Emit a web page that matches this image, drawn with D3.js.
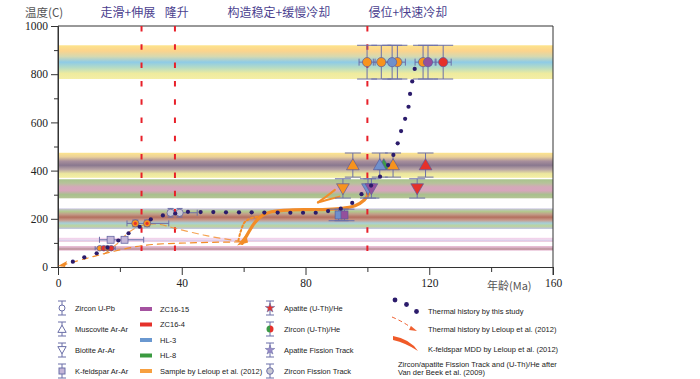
<!DOCTYPE html>
<html><head><meta charset="utf-8">
<script src="https://cdn.jsdelivr.net/npm/d3@7"></script>
<style>body{margin:0;background:#fff} svg{display:block}</style>
</head><body><div id="chart"></div>
<script>
// ---- values ----
const xTicks = [0, 40, 80, 120, 160];
const xMinor = [20, 60, 100, 140];
const yTicks = [0, 200, 400, 600, 800, 1000];
const yMinor = [100, 300, 500, 700, 900];

const stageNames = ["走滑+伸展", "隆升", "构造稳定+缓慢冷却", "侵位+快速冷却"];
const stageAt = [22.6, 38.4, 71.4, 113.1];
const boundaryAges = [27, 37.8, 100];

// closure temperature bands (lo, hi, colour stripes top->bottom)
const bandLo = [780, 370, 285, 158, 105, 68];
const bandHi = [920, 474, 364, 243, 121, 87];
const bandStops = [
  ["#fde48c", "#fcd38c", "#d6d9b0", "#8ecbe6", "#b6dcc4", "#eeeb9e", "#f4eea6"],
  ["#fde58e", "#ead09a", "#a88f9c", "#8a788f", "#b9a5a6", "#ece79e", "#f4efa6"],
  ["#a7c28c", "#b6c39a", "#d4a9b9", "#d6a6bc", "#a9c08e", "#b5c595"],
  ["#c6c2e0", "#b2c98e", "#c29c88", "#b4705f", "#c99a8c", "#a6cfd8", "#bdd59a", "#bcc0e2"],
  ["#f0c8e8", "#f3dcee", "#dccfec", "#e6b6d2"],
  ["#ecc0d8", "#d8b0c4", "#b98f96", "#e9bcd6"]
];

// thermal history by this study
const thermalAge = [4.8, 8.5, 12.5, 16, 19.5, 22.8, 26.4, 30, 33.9, 37.9, 42, 46.1, 50.2, 54.3, 58.5, 62.6, 66.7, 71, 75.1, 79.2,
  83.3, 87.3, 91.4, 95.1, 98.1, 101.2, 104.1, 106.7, 108.4, 109.8, 110.9, 112.2, 113.3, 113.8, 114.5, 115.3];
const thermalTemp = [22, 40, 57, 80, 110, 140, 167, 198, 214, 222, 229, 228, 228, 227, 227, 227, 226, 226, 225, 225,
  225, 232, 242, 266, 302, 338, 375, 423, 465, 513, 564, 615, 665, 718, 770, 822];

// thermal history by Leloup et al. (2012)
const leloupLow = [[1, 6], [9, 35], [17, 62], [28, 90], [42, 100], [59, 104]];
const leloupHigh = [[15, 55], [19, 95], [23, 145], [27, 172], [32, 178], [38, 160], [48, 130], [59, 106]];
// K-feldspar MDD by Leloup et al. (2012)
const kfsMain = [[59.5, 98], [61, 130], [63.4, 181], [66, 213], [69, 229], [76, 237], [84, 238], [91, 242], [96, 254], [99, 278], [100.5, 305]];
const kfsDotted = [[58.3, 110], [59, 145], [60.3, 185], [62.5, 203], [66, 212]];
const kfsV1 = [[84, 268], [87, 295], [89.5, 320]];
const kfsV2 = [[84, 268], [88, 282], [91, 292]];

// sample data points
const highAges = [99.9, 104.5, 109.7, 108, 118, 119.6, 124.5];
const highFills = ["orange", "orange", "orange", "blue", "orange", "purple", "red"];
const highTemp = 850, highErr = 70;

const upAges = [95.3, 105.3, 104, 108.3, 118.8];
const upFills = ["orange", "green", "blue", "orange", "red"];
const upTemp = 423, upErr = 50;

const downAges = [92.1, 100.2, 101.3, 116.1];
const downFills = ["orange", "blue", "purple", "red"];
const downTemp = 326, downErr = 40;

const sqAges = [90.7, 92.6];
const sqFills = ["blue", "purple"];
const sqTemp = 216, sqErr = 24;

const ftAges = [13.5, 14.8, 16, 17.2];   // small circles ~78 C
const ftTemp = 78, ftRange = [12, 18.5];
const arAges = [17, 21.5];              // squares ~113 C
const arTemp = 113, arRange = [13.4, 27.7];
const heAges = [25, 28.8];              // circles ~181 C
const heTemp = 181, heRange = [22.3, 35.8], heErr = 14;
const zfAges = [36.4, 39.3];            // grey circles ~225 C
const zfTemp = 225, zfRange = [35.6, 45], zfErr = 18;

const legendMethods = ["Zircon U-Pb", "Muscovite Ar-Ar", "Biotite Ar-Ar", "K-feldspar Ar-Ar"];
const legendSamples = ["ZC16-15", "ZC16-4", "HL-3", "HL-8", "Sample by Leloup et al. (2012)"];
const sampleColors = ["#a452a0", "#e5312b", "#6a98d0", "#3a9a40", "#f7a040"];
const legendDating = ["Apatite (U-Th)/He", "Zircon (U-Th)/He", "Apatite Fission Track", "Zircon Fission Track"];
const legendHistory = ["Thermal history by this study", "Thermal history by Leloup et al. (2012)",
  "K-feldspar MDD by Leloup et al. (2012)", "Zircon/apatite Fission Track and (U-Th)/He after", "Van der Beek et al. (2009)"];

// ---- drawing ----
const W = 700, H = 379;
const pal = {orange: "#f7931e", red: "#e5312b", blue: "#6f90cc", purple: "#94509c", green: "#3c9a46"};
const errC = "#6b6fa8", dotC = "#2b1b6b", leloupC = "#f28c28";
const serif = "Liberation Serif, Times New Roman, serif";
const cjk = "Noto Sans CJK SC, sans-serif";

const x = d3.scaleLinear([0, 160], [58, 553]);
const y = d3.scaleLinear([0, 1000], [267, 26]);

const svg = d3.select("#chart").append("svg").attr("width", W).attr("height", H);
const defs = svg.append("defs");

// bands
bandStops.forEach((stops, i) => {
  const g = defs.append("linearGradient").attr("id", "band" + i)
    .attr("x1", 0).attr("y1", 0).attr("x2", 0).attr("y2", 1);
  stops.forEach((c, j) => g.append("stop").attr("offset", j / (stops.length - 1)).attr("stop-color", c));
});
svg.append("g").selectAll("rect").data(bandLo).join("rect")
  .attr("x", x(0)).attr("width", x(160) - x(0))
  .attr("y", (d, i) => y(bandHi[i])).attr("height", (d, i) => y(d) - y(bandHi[i]))
  .attr("fill", (d, i) => `url(#band${i})`);

// frame
svg.append("path").attr("fill", "none").attr("stroke", "#333").attr("stroke-width", 1)
  .attr("d", `M${x(0)},${y(0)}V${y(1000)}H${x(160)}V${y(0) + 8}`);

// axes
svg.append("g").attr("transform", `translate(${x(0)},0)`)
  .call(d3.axisLeft(y).tickValues(yTicks).tickSize(7).tickPadding(3).tickFormat(d3.format("d")));
svg.append("g").attr("transform", `translate(${x(0)},0)`)
  .call(d3.axisLeft(y).tickValues(yMinor).tickSize(4).tickFormat(""))
  .call(g => g.select(".domain").remove());
svg.append("g").attr("transform", `translate(0,${y(0)})`)
  .call(d3.axisBottom(x).tickValues(xTicks).tickSize(8).tickPadding(4).tickFormat(d3.format("d")));
svg.append("g").attr("transform", `translate(0,${y(0)})`)
  .call(d3.axisBottom(x).tickValues(xMinor).tickSize(5).tickFormat(""))
  .call(g => g.select(".domain").remove());
svg.selectAll(".tick line").attr("stroke", "#333");
svg.selectAll(".domain").attr("stroke", "#333");
svg.selectAll(".tick text").style("font-family", serif).style("font-size", "11.5px").attr("fill", "#222");

svg.append("text").attr("x", 25).attr("y", 17).style("font-family", cjk)
  .style("font-size", "11.5px").attr("fill", "#555").text("温度(C)");
svg.append("text").attr("x", 487).attr("y", 290).style("font-family", cjk)
  .style("font-size", "11px").attr("fill", "#555").text("年龄(Ma)");

// stage labels
svg.append("g").selectAll("text").data(stageNames).join("text")
  .attr("x", (d, i) => x(stageAt[i])).attr("y", 17).attr("text-anchor", "middle")
  .style("font-family", cjk).style("font-size", "12px").attr("fill", "#4b3f8f")
  .text(d => d);

// boundaries
svg.append("g").selectAll("line").data(boundaryAges).join("line")
  .attr("x1", d => x(d)).attr("x2", d => x(d)).attr("y1", y(1000)).attr("y2", 261)
  .attr("stroke", "#e8202a").attr("stroke-width", 2).attr("stroke-dasharray", "5.5,12.8");

// Leloup curves
const line = d3.line(d => x(d[0]), d => y(d[1])).curve(d3.curveCatmullRom);
const curves = svg.append("g").attr("fill", "none").attr("stroke", leloupC).attr("stroke-linecap", "round");
curves.append("path").attr("d", line(leloupLow)).attr("stroke-width", 1.2).attr("stroke-dasharray", "6,5");
curves.append("path").attr("d", line(leloupHigh)).attr("stroke-width", 1.2).attr("stroke-dasharray", "6,5").attr("opacity", 0.8);
curves.append("path").attr("d", line(kfsMain)).attr("stroke-width", 3.2);
curves.append("path").attr("d", line(kfsDotted)).attr("stroke-width", 2).attr("stroke-dasharray", "2,2.5");
curves.append("path").attr("d", line(kfsV1)).attr("stroke-width", 2);
curves.append("path").attr("d", line(kfsV2)).attr("stroke-width", 2);
// arrowhead at the start of Leloup history + MDD wedge
svg.append("path").attr("fill", leloupC)
  .attr("d", `M${x(0)},${y(0) - 1}l9,-5l-2,6z`);
svg.append("path").attr("fill", leloupC)
  .attr("d", `M${x(59.5) - 5},${y(98) + 2}l11,-3l-2,-8z`);

// helpers
function vErr(g, cx, cy1, cy2, cap) {
  g.append("line").attr("x1", cx).attr("x2", cx).attr("y1", cy1).attr("y2", cy2);
  g.append("line").attr("x1", cx - cap).attr("x2", cx + cap).attr("y1", cy1).attr("y2", cy1);
  g.append("line").attr("x1", cx - cap).attr("x2", cx + cap).attr("y1", cy2).attr("y2", cy2);
}
function hErr(g, x1, x2, cy, cap) {
  g.append("line").attr("x1", x1).attr("x2", x2).attr("y1", cy).attr("y2", cy);
  g.append("line").attr("x1", x1).attr("x2", x1).attr("y1", cy - cap).attr("y2", cy + cap);
  g.append("line").attr("x1", x2).attr("x2", x2).attr("y1", cy - cap).attr("y2", cy + cap);
}
const eg = svg.append("g").attr("stroke", errC).attr("stroke-width", 1).attr("fill", "none");
const mk = svg.append("g").attr("stroke", "#5a5c9c").attr("stroke-width", 0.7);
const triD = d3.symbol(d3.symbolTriangle, 70)();

// high circles (~850)
highAges.forEach(a => {
  vErr(eg, x(a), y(highTemp + highErr), y(highTemp - highErr), 10);
  hErr(eg, x(a) - 8, x(a) + 8, y(highTemp), 3.5);
});
mk.selectAll("circle.hi").data(highAges).join("circle").attr("class", "hi")
  .attr("cx", d => x(d)).attr("cy", y(highTemp)).attr("r", 4.6)
  .attr("fill", (d, i) => pal[highFills[i]]);

// up triangles
upAges.forEach((a, i) => { if (upFills[i] !== "green") vErr(eg, x(a), y(upTemp + upErr), y(upTemp - upErr), 8); });
mk.selectAll("path.up").data(upAges).join("path").attr("class", "up")
  .attr("transform", d => `translate(${x(d)},${y(upTemp) + 1})`)
  .attr("d", triD).attr("fill", (d, i) => pal[upFills[i]]);

// down triangles
downAges.forEach(a => vErr(eg, x(a), y(downTemp + downErr), y(downTemp - downErr), 8));
mk.selectAll("path.dn").data(downAges).join("path").attr("class", "dn")
  .attr("transform", d => `translate(${x(d)},${y(downTemp) - 1}) rotate(180)`)
  .attr("d", triD).attr("fill", (d, i) => pal[downFills[i]]);

// squares ~216
sqAges.forEach(a => vErr(eg, x(a), y(sqTemp + sqErr), y(sqTemp - sqErr), 10));
mk.selectAll("rect.sq").data(sqAges).join("rect").attr("class", "sq")
  .attr("x", d => x(d) - 3.5).attr("y", y(sqTemp) - 4).attr("width", 7).attr("height", 8)
  .attr("fill", (d, i) => pal[sqFills[i]]);

// lower-left cluster
hErr(eg, x(ftRange[0]), x(ftRange[1]), y(ftTemp), 2);
hErr(eg, x(arRange[0]), x(arRange[1]), y(arTemp), 3);
hErr(eg, x(heRange[0]), x(heRange[1]), y(heTemp), 3);
hErr(eg, x(zfRange[0]), x(zfRange[1]), y(zfTemp), 3);
heAges.forEach(a => vErr(eg, x(a), y(heTemp + heErr), y(heTemp - heErr), 3));
zfAges.forEach(a => vErr(eg, x(a), y(zfTemp + zfErr), y(zfTemp - zfErr), 3));

// thermal history dots
svg.append("g").selectAll("circle").data(thermalAge).join("circle")
  .attr("cx", d => x(d)).attr("cy", (d, i) => y(thermalTemp[i])).attr("r", 2.1).attr("fill", dotC);

mk.selectAll("circle.ft").data(ftAges).join("circle").attr("class", "ft")
  .attr("cx", d => x(d)).attr("cy", y(ftTemp)).attr("r", 2.8).attr("fill", (d, i) => i % 2 ? pal.red : pal.orange);
mk.selectAll("rect.ar").data(arAges).join("rect").attr("class", "ar")
  .attr("x", d => x(d) - 3.5).attr("y", y(arTemp) - 3.5).attr("width", 7).attr("height", 7).attr("fill", "#c4b6d8");
mk.selectAll("circle.he").data(heAges).join("circle").attr("class", "he")
  .attr("cx", d => x(d)).attr("cy", y(heTemp)).attr("r", 3.6).attr("fill", pal.orange);
mk.selectAll("circle.he2").data(heAges).join("circle").attr("class", "he2")
  .attr("cx", d => x(d)).attr("cy", y(heTemp)).attr("r", 1.6).attr("fill", pal.red).attr("stroke", "none");
mk.selectAll("circle.zf").data(zfAges).join("circle").attr("class", "zf")
  .attr("cx", d => x(d)).attr("cy", y(zfTemp)).attr("r", 3.6).attr("fill", "#c9c9d3");

// ---- legend ----
const lg = svg.append("g").style("font-family", "Liberation Sans, Arial, sans-serif").style("font-size", "7.5px").attr("fill", "#222");
const rowY = [308, 329, 350, 371];
const lgErr = lg.append("g").attr("stroke", errC).attr("fill", "none").attr("stroke-width", 1);
rowY.forEach(ry => vErr(lgErr, 62, ry - 7, ry + 7, 4));
rowY.forEach(ry => vErr(lgErr, 270, ry - 7, ry + 7, 4));
lg.append("circle").attr("cx", 62).attr("cy", rowY[0]).attr("r", 3).attr("fill", "#fff").attr("stroke", errC);
lg.append("path").attr("transform", `translate(62,${rowY[1] + 1})`).attr("d", d3.symbol(d3.symbolTriangle, 30)())
  .attr("fill", "#fff").attr("stroke", errC);
lg.append("path").attr("transform", `translate(62,${rowY[2] - 1}) rotate(180)`).attr("d", d3.symbol(d3.symbolTriangle, 30)())
  .attr("fill", "#fff").attr("stroke", errC);
lg.append("rect").attr("x", 59).attr("y", rowY[3] - 3).attr("width", 6).attr("height", 6).attr("fill", "#c4b6d8").attr("stroke", errC);
lg.selectAll("text.m").data(legendMethods).join("text").attr("class", "m")
  .attr("x", 75).attr("y", (d, i) => rowY[i] + 2.5).text(d => d);

const sampY = [309, 324.5, 340, 355.5, 371];
lg.selectAll("rect.s").data(legendSamples).join("rect").attr("class", "s")
  .attr("x", 140).attr("y", (d, i) => sampY[i] - 2).attr("width", 12).attr("height", 4)
  .attr("fill", (d, i) => sampleColors[i]);
lg.selectAll("text.s").data(legendSamples).join("text").attr("class", "s")
  .attr("x", 160).attr("y", (d, i) => sampY[i] + 2.5).text(d => d);

const star = d3.symbol(d3.symbolStar, 28)();
lg.append("path").attr("transform", `translate(270,${rowY[0]})`).attr("d", star).attr("fill", pal.red).attr("stroke", errC).attr("stroke-width", 0.6);
lg.append("path").attr("transform", `translate(270,${rowY[1]})`).attr("d", d3.arc()({innerRadius: 0, outerRadius: 3.5, startAngle: 0, endAngle: Math.PI})).attr("fill", pal.red);
lg.append("path").attr("transform", `translate(270,${rowY[1]})`).attr("d", d3.arc()({innerRadius: 0, outerRadius: 3.5, startAngle: Math.PI, endAngle: 2 * Math.PI})).attr("fill", pal.green);
lg.append("path").attr("transform", `translate(270,${rowY[2]})`).attr("d", star).attr("fill", "#9a8cc8").attr("stroke", errC).attr("stroke-width", 0.6);
lg.append("circle").attr("cx", 270).attr("cy", rowY[3]).attr("r", 3.3).attr("fill", "#c9c9d3").attr("stroke", errC);
lg.selectAll("text.d").data(legendDating).join("text").attr("class", "d")
  .attr("x", 284).attr("y", (d, i) => rowY[i] + 2.5).text(d => d);

// column 4
[[395, 300], [406.5, 304.5], [416.5, 311.5]].forEach(p =>
  lg.append("circle").attr("cx", p[0]).attr("cy", p[1]).attr("r", 2.4).attr("fill", dotC));
lg.append("path").attr("d", "M392,317 Q404,322 413,329").attr("fill", "none").attr("stroke", "#f06030")
  .attr("stroke-width", 1).attr("stroke-dasharray", "4,3");
lg.append("path").attr("d", "M411,326 L417,331 L409,330 Z").attr("fill", "#f06030");
lg.append("path").attr("d", "M393,336 Q410,339 418,351 Q406,343 393,340 Z").attr("fill", "#f05a28");
const hY = [313.5, 331.5, 351.5, 366.5, 374.5];
const hX = [428, 428, 428, 398, 398];
lg.selectAll("text.h").data(legendHistory).join("text").attr("class", "h")
  .attr("x", (d, i) => hX[i]).attr("y", (d, i) => hY[i]).text(d => d);
</script>
</body></html>
